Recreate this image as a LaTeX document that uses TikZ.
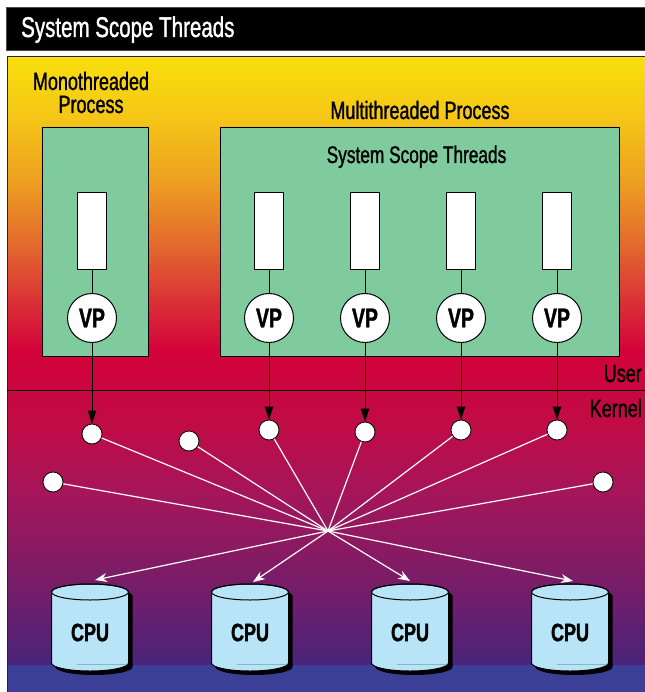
\documentclass[tikz,border=0pt]{standalone}
\usepackage{fontspec}
\setmainfont{Liberation Sans}
\newfontfamily\condfont{Liberation Sans}[FakeStretch=0.72, FakeBold=1.2]
\newfontfamily\condbold{Liberation Sans}[FakeStretch=0.72, UprightFont={* Bold}, FakeBold=1.4]
\usetikzlibrary{arrows.meta}

\definecolor{procgreen}{HTML}{80CB9E}
\definecolor{cpublue}{HTML}{B8E4F8}
\definecolor{cpuedge}{HTML}{8CB4C6}
\definecolor{floorblue}{HTML}{3C3F96}
\definecolor{g1}{HTML}{F9DF0C}
\definecolor{g2}{HTML}{F4C417}
\definecolor{g3}{HTML}{EDA021}
\definecolor{g4}{HTML}{E2642E}
\definecolor{g5}{HTML}{DA3236}
\definecolor{g6}{HTML}{D4023A}
\definecolor{g7}{HTML}{C9073F}
\definecolor{g8}{HTML}{BE0C47}
\definecolor{g9}{HTML}{A6155A}
\definecolor{g10}{HTML}{8B1A61}
\definecolor{g11}{HTML}{6C1E6D}
\definecolor{g12}{HTML}{48247A}

\begin{document}
\begin{tikzpicture}[x=1pt, y=-1pt,
  labeltext/.style={font=\condfont\fontsize{25}{23}\selectfont, inner sep=0pt, align=center},
  procbox/.style={draw=black, line width=1pt, fill=procgreen, inner sep=0pt, anchor=north west},
  threadbox/.style={draw=black, line width=1pt, fill=white, minimum width=29pt, minimum height=76pt, inner sep=0pt},
  vpnode/.style={circle, draw=black, line width=1pt, fill=white, minimum size=49pt, inner sep=0pt,
    font=\condbold\fontsize{27}{27}\selectfont},
  kthread/.style={circle, draw=black, line width=0.8pt, fill=white, minimum size=20pt, inner sep=0pt},
  bind/.style={draw=black, line width=1pt, -{Triangle[length=13pt,width=8.5pt]}},
  sched/.style={draw=white, line width=1.2pt},
  dispatch/.style={sched, -{Stealth[length=12pt,width=9pt]}},
  cpulabel/.style={font=\condbold\fontsize{25}{25}\selectfont, inner sep=0pt},
]
\useasboundingbox (0,0) rectangle (644,692);
\fill[white] (0,0) rectangle (644,692);

% title bar
\fill[black, draw=black!70, line width=0.8pt] (6,7) rectangle (645,50);
\node[anchor=base west, text=white, inner sep=0pt,
      font=\condfont\fontsize{28.5}{30}\selectfont] (title) at (21,37) {System Scope Threads};

% background: user space fading into kernel space
\foreach \ya/\yb/\ca/\cb in {57/120/g1/g2, 120/180/g2/g3, 180/250/g3/g4, 250/300/g4/g5,
    300/350/g5/g6, 350/390/g6/g7, 390/430/g7/g8, 430/490/g8/g9, 490/545/g9/g10,
    545/605/g10/g11, 605/665/g11/g12}
  \fill[top color=\ca, bottom color=\cb] (7,\ya) rectangle (645,\yb+1);
\fill[floorblue] (7,665) rectangle (645,692);
\draw[black!85, line width=1pt] (7,693) -- (7,57) -- (645,57);

% user / kernel boundary
\draw[black, line width=1pt] (7,390) -- (645,390);
\node[labeltext, anchor=base east] (user) at (642,382) {User};
\node[labeltext, anchor=base east] (kernel) at (642,417) {Kernel};

% processes
\node[labeltext, anchor=base] (monolabel) at (91,113) {Monothreaded\\Process};
\node[labeltext, anchor=base] (multilabel) at (420,119) {Multithreaded Process};
\node[procbox, minimum width=106pt, minimum height=229pt] (mono) at (42,127) {};
\node[procbox, minimum width=399pt, minimum height=229pt] (multi) at (220,127) {};
\node[labeltext, font=\condfont\fontsize{24}{24}\selectfont, anchor=base] (scope) at (416.5,163) {System Scope Threads};

% user threads bound to virtual processors
\foreach \i/\x in {1/92, 2/269, 3/365, 4/461, 5/557} {
  \node[threadbox] (t\i) at (\x,231) {};
  \node[vpnode] (vp\i) at (\x,318) {VP};
  \draw[black, line width=1pt] (t\i.south) -- (vp\i.north);
}

% kernel threads
\node[kthread] (kt1) at (92,434) {};
\node[kthread] (kt2) at (189,441) {};
\node[kthread] (kt3) at (269,430) {};
\node[kthread] (kt4) at (365,432) {};
\node[kthread] (kt5) at (461,430) {};
\node[kthread] (kt6) at (557,430) {};
\node[kthread] (kt7) at (53,482) {};
\node[kthread] (kt8) at (603,482) {};

\draw[bind] (vp1) -- (kt1);
\draw[bind] (vp2) -- (kt3);
\draw[bind] (vp3) -- (kt4);
\draw[bind] (vp4) -- (kt5);
\draw[bind] (vp5) -- (kt6);

% scheduler hub
\coordinate (hub) at (328,531);
\foreach \k in {1,...,8}
  \draw[sched] (kt\k) -- (hub);

% processors
\foreach \i/\x/\tx/\ty in {1/90/95/580, 2/250/253/582, 3/410/410/581, 4/570/573/581} {
  \begin{scope}[shift={(4,4)}]
    \fill[black] (\x-38.5,592) -- (\x-38.5,663)
      arc[start angle=180, end angle=0, x radius=38.5, y radius=8]
      -- (\x+38.5,592)
      arc[start angle=0, end angle=-180, x radius=38.5, y radius=8] -- cycle;
  \end{scope}
  \filldraw[fill=cpublue, draw=black, line width=1pt] (\x-38.5,592) -- (\x-38.5,663)
    arc[start angle=180, end angle=0, x radius=38.5, y radius=8]
    -- (\x+38.5,592)
    arc[start angle=0, end angle=-180, x radius=38.5, y radius=8] -- cycle;
  \draw[black, line width=1pt] (\x,592) ellipse[x radius=38.5, y radius=8];
  \draw[cpuedge, line width=0.7pt] (\x-13,664) -- (\x+37,664);
  \node[cpulabel] (cpu\i) at (\x,632.5) {CPU};
  \coordinate (cputop\i) at (\tx,\ty);
  \draw[dispatch] (hub) -- (cputop\i);
}
\end{tikzpicture}
\end{document}
